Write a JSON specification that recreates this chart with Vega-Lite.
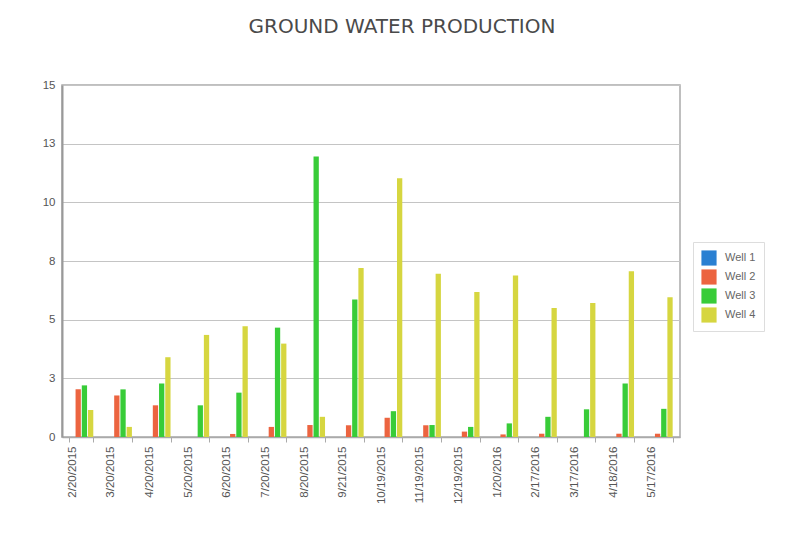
{
  "$schema": "https://vega.github.io/schema/vega-lite/v6.json",
  "autosize": {"type": "none"},
  "width": 618,
  "height": 352,
  "padding": {"left": 62, "top": 85, "right": 111, "bottom": 96},
  "background": "#ffffff",
  "title": {
    "text": "GROUND WATER PRODUCTION",
    "fontSize": 20,
    "font": "DejaVu Sans",
    "fontWeight": "normal",
    "color": "#4a4a4a",
    "anchor": "middle",
    "dx": 31,
    "offset": 42
  },
  "config": {
    "font": "Liberation Sans",
    "view": {"stroke": "#aaaaaa", "strokeWidth": 1.5}
  },
  "data": {
    "values": [
      {"date": "2/20/2015", "well": "Well 1", "value": 0},
      {"date": "2/20/2015", "well": "Well 2", "value": 2.03},
      {"date": "2/20/2015", "well": "Well 3", "value": 2.2},
      {"date": "2/20/2015", "well": "Well 4", "value": 1.15},
      {"date": "3/20/2015", "well": "Well 1", "value": 0},
      {"date": "3/20/2015", "well": "Well 2", "value": 1.77},
      {"date": "3/20/2015", "well": "Well 3", "value": 2.03},
      {"date": "3/20/2015", "well": "Well 4", "value": 0.43},
      {"date": "4/20/2015", "well": "Well 1", "value": 0},
      {"date": "4/20/2015", "well": "Well 2", "value": 1.35},
      {"date": "4/20/2015", "well": "Well 3", "value": 2.28},
      {"date": "4/20/2015", "well": "Well 4", "value": 3.4},
      {"date": "5/20/2015", "well": "Well 1", "value": 0},
      {"date": "5/20/2015", "well": "Well 2", "value": 0},
      {"date": "5/20/2015", "well": "Well 3", "value": 1.35},
      {"date": "5/20/2015", "well": "Well 4", "value": 4.35},
      {"date": "6/20/2015", "well": "Well 1", "value": 0},
      {"date": "6/20/2015", "well": "Well 2", "value": 0.13},
      {"date": "6/20/2015", "well": "Well 3", "value": 1.89},
      {"date": "6/20/2015", "well": "Well 4", "value": 4.72},
      {"date": "7/20/2015", "well": "Well 1", "value": 0},
      {"date": "7/20/2015", "well": "Well 2", "value": 0.43},
      {"date": "7/20/2015", "well": "Well 3", "value": 4.66},
      {"date": "7/20/2015", "well": "Well 4", "value": 3.98},
      {"date": "8/20/2015", "well": "Well 1", "value": 0},
      {"date": "8/20/2015", "well": "Well 2", "value": 0.51},
      {"date": "8/20/2015", "well": "Well 3", "value": 11.95},
      {"date": "8/20/2015", "well": "Well 4", "value": 0.86},
      {"date": "9/21/2015", "well": "Well 1", "value": 0},
      {"date": "9/21/2015", "well": "Well 2", "value": 0.5},
      {"date": "9/21/2015", "well": "Well 3", "value": 5.86},
      {"date": "9/21/2015", "well": "Well 4", "value": 7.2},
      {"date": "10/19/2015", "well": "Well 1", "value": 0},
      {"date": "10/19/2015", "well": "Well 2", "value": 0.82},
      {"date": "10/19/2015", "well": "Well 3", "value": 1.1},
      {"date": "10/19/2015", "well": "Well 4", "value": 11.03},
      {"date": "11/19/2015", "well": "Well 1", "value": 0},
      {"date": "11/19/2015", "well": "Well 2", "value": 0.5},
      {"date": "11/19/2015", "well": "Well 3", "value": 0.51},
      {"date": "11/19/2015", "well": "Well 4", "value": 6.96},
      {"date": "12/19/2015", "well": "Well 1", "value": 0},
      {"date": "12/19/2015", "well": "Well 2", "value": 0.23},
      {"date": "12/19/2015", "well": "Well 3", "value": 0.43},
      {"date": "12/19/2015", "well": "Well 4", "value": 6.18},
      {"date": "1/20/2016", "well": "Well 1", "value": 0},
      {"date": "1/20/2016", "well": "Well 2", "value": 0.11},
      {"date": "1/20/2016", "well": "Well 3", "value": 0.58},
      {"date": "1/20/2016", "well": "Well 4", "value": 6.88},
      {"date": "2/17/2016", "well": "Well 1", "value": 0},
      {"date": "2/17/2016", "well": "Well 2", "value": 0.14},
      {"date": "2/17/2016", "well": "Well 3", "value": 0.86},
      {"date": "2/17/2016", "well": "Well 4", "value": 5.5},
      {"date": "3/17/2016", "well": "Well 1", "value": 0},
      {"date": "3/17/2016", "well": "Well 2", "value": 0},
      {"date": "3/17/2016", "well": "Well 3", "value": 1.18},
      {"date": "3/17/2016", "well": "Well 4", "value": 5.71},
      {"date": "4/18/2016", "well": "Well 1", "value": 0},
      {"date": "4/18/2016", "well": "Well 2", "value": 0.14},
      {"date": "4/18/2016", "well": "Well 3", "value": 2.28},
      {"date": "4/18/2016", "well": "Well 4", "value": 7.06},
      {"date": "5/17/2016", "well": "Well 1", "value": 0},
      {"date": "5/17/2016", "well": "Well 2", "value": 0.14},
      {"date": "5/17/2016", "well": "Well 3", "value": 1.2},
      {"date": "5/17/2016", "well": "Well 4", "value": 5.95}
    ]
  },
  "mark": {"type": "bar"},
  "encoding": {
    "x": {
      "field": "date",
      "type": "ordinal",
      "sort": null,
      "scale": {"paddingInner": 0.38, "paddingOuter": 0.19},
      "axis": {
        "title": null,
        "labelAngle": 270,
        "labelAlign": "right",
        "labelBaseline": "middle",
        "labelOffset": -9,
        "labelFontSize": 11.5,
        "labelColor": "#555555",
        "labelPadding": 4,
        "tickBand": "extent",
        "tickColor": "#aaaaaa",
        "tickSize": 5,
        "domainColor": "#aaaaaa",
        "domainWidth": 1.5,
        "grid": false
      }
    },
    "xOffset": {
      "field": "well",
      "type": "nominal",
      "scale": {"paddingInner": 0.15}
    },
    "y": {
      "field": "value",
      "type": "quantitative",
      "scale": {"domain": [0, 15], "nice": false},
      "axis": {
        "title": null,
        "values": [0, 2.5, 5, 7.5, 10, 12.5, 15],
        "format": ".0f",
        "ticks": false,
        "labelFontSize": 11.5,
        "labelColor": "#555555",
        "labelPadding": 7,
        "domainColor": "#999999",
        "domainWidth": 2,
        "gridColor": "#c4c4c4",
        "gridWidth": 1
      }
    },
    "color": {
      "field": "well",
      "type": "nominal",
      "scale": {
        "domain": ["Well 1", "Well 2", "Well 3", "Well 4"],
        "range": ["#2a80d2", "#ec6440", "#38cc38", "#d6d640"]
      },
      "legend": {
        "title": null,
        "orient": "none",
        "legendX": 631,
        "legendY": 157,
        "symbolType": "square",
        "symbolSize": 230,
        "symbolStrokeWidth": 0,
        "labelFontSize": 11,
        "labelColor": "#666666",
        "rowPadding": 3,
        "padding": 8,
        "strokeColor": "#dddddd",
        "fillColor": "#ffffff",
        "labelOffset": 8,
        "labelLimit": 200
      }
    }
  }
}
